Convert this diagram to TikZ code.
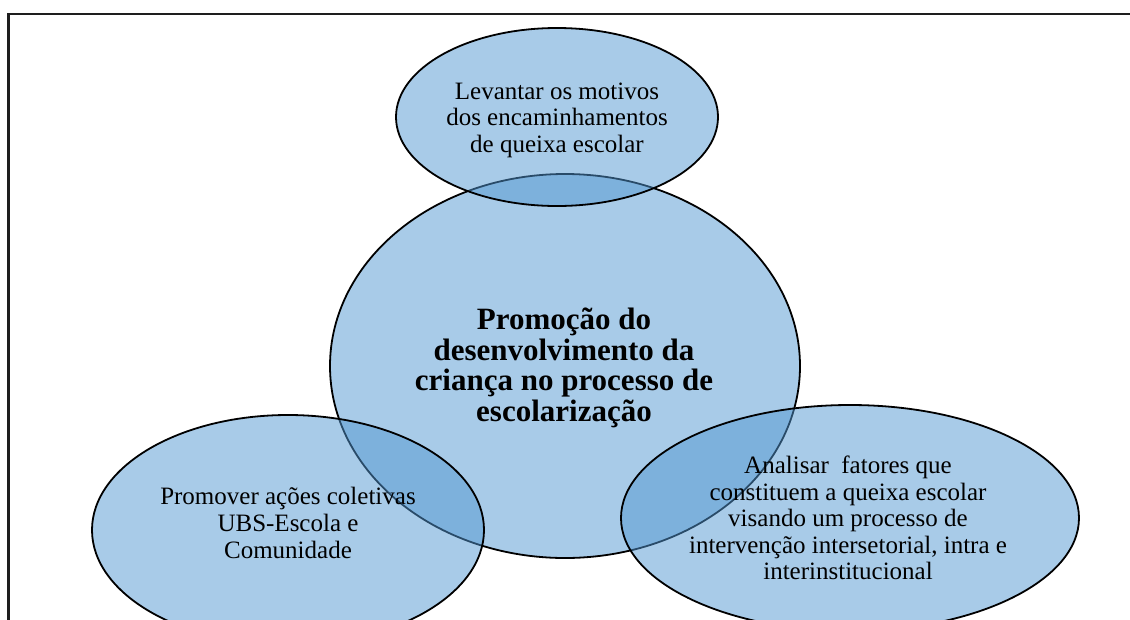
\documentclass[tikz,border=0pt]{standalone}
\usepackage{fontspec}
\setmainfont{Liberation Serif}
\usetikzlibrary{shapes.geometric}
\definecolor{bubble}{RGB}{82,151,209}
\definecolor{frame}{RGB}{30,30,30}
\begin{document}
\begin{tikzpicture}[x=1pt,y=-1pt,
  bub/.style={ellipse, draw=black, line width=1.8pt, fill=bubble, fill opacity=0.5, draw opacity=1, inner sep=0pt},
  lbl/.style={align=center, font=\fontsize{25}{26.6}\selectfont, text=black, inner sep=0pt},
  mainlbl/.style={align=center, font=\bfseries\fontsize{31}{30.5}\selectfont, text=black, inner sep=0pt}]
\useasboundingbox (0,0) rectangle (1130,619);
\clip (0,0) rectangle (1130,619);
\draw[line width=2.4pt, color=frame] (1200,14) -- (8.5,14) -- (8.5,700);
\node[bub, minimum width=470pt, minimum height=384pt] (c) at (565,366) {};
\node[bub, minimum width=322pt, minimum height=178pt] (t) at (557,117) {};
\node[bub, minimum width=392pt, minimum height=230pt] (l) at (288,530) {};
\node[bub, minimum width=458pt, minimum height=226pt] (r) at (850,518) {};
\node[mainlbl] (ct) at (564,368) {Promoção do\\desenvolvimento da\\criança no processo de\\escolarização};
\node[lbl] (tt) at (557,120) {Levantar os motivos\\dos encaminhamentos\\de queixa escolar};
\node[lbl] (lt) at (288,523) {Promover ações coletivas\\UBS-Escola e\\Comunidade};
\node[lbl] (rt) at (848,518) {Analisar\ \ fatores que\\constituem a queixa escolar\\visando um processo de\\intervenção intersetorial, intra e\\interinstitucional};
\end{tikzpicture}
\end{document}
